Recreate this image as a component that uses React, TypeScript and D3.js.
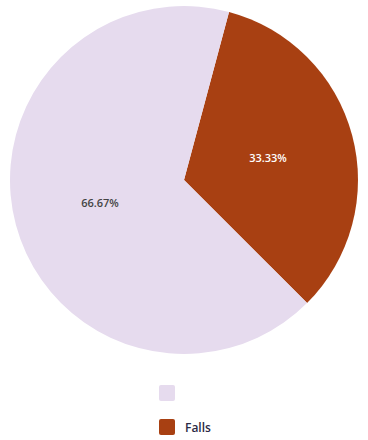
import React from "react";
import * as d3 from "d3";

const categories = ["", "Falls"];
const values = [66.67, 33.33];
const colors = ["#e6dbee", "#a84012"];
const labelColors = ["#444444", "#ffffff"];

export default function App() {
  const width = 368;
  const height = 440;
  const cx = 184;
  const cy = 180;
  const r = 174;
  const offset = (15 * Math.PI) / 180;

  const data = categories.map((c, i) => ({ c, v: values[i], i }));
  // Falls starts at offset, clockwise; other fills the rest
  const ordered = [data[1], data[0]];
  const pie = d3
    .pie<any>()
    .value((d) => d.v)
    .sort(null)
    .startAngle(offset)
    .endAngle(offset + 2 * Math.PI);
  const arcs = pie(ordered);
  const arc = d3.arc<any>().innerRadius(0).outerRadius(r);
  const labelArc = d3.arc<any>().innerRadius(r / 2).outerRadius(r / 2);

  return (
    <div style={{ position: "absolute", left: 0, top: 0 }}>
      <svg width={width} height={height} style={{ display: "block" }}>
        <g transform={`translate(${cx},${cy})`}>
          {arcs.map((a, k) => (
            <path key={k} d={arc(a) as string} fill={colors[a.data.i]} />
          ))}
          {arcs.map((a, k) => {
            const [x, y] = labelArc.centroid(a);
            return (
              <text
                key={"l" + k}
                x={x}
                y={y}
                textAnchor="middle"
                dominantBaseline="central"
                fontFamily="'Open Sans', sans-serif"
                fontWeight={600}
                fontSize={11}
                fill={labelColors[a.data.i]}
              >
                {a.data.v.toFixed(2)}%
              </text>
            );
          })}
        </g>
        {data.map((d, i) => (
          <g key={"lg" + i} transform={`translate(159,${385 + i * 34})`}>
            <rect width={16} height={16} rx={2} fill={colors[i]} />
            <text
              x={26}
              y={8}
              dominantBaseline="central"
              fontFamily="'Open Sans', sans-serif"
              fontWeight={600}
              fontSize={12}
              fill="#2b2b45"
            >
              {d.c}
            </text>
          </g>
        ))}
      </svg>
    </div>
  );
}
